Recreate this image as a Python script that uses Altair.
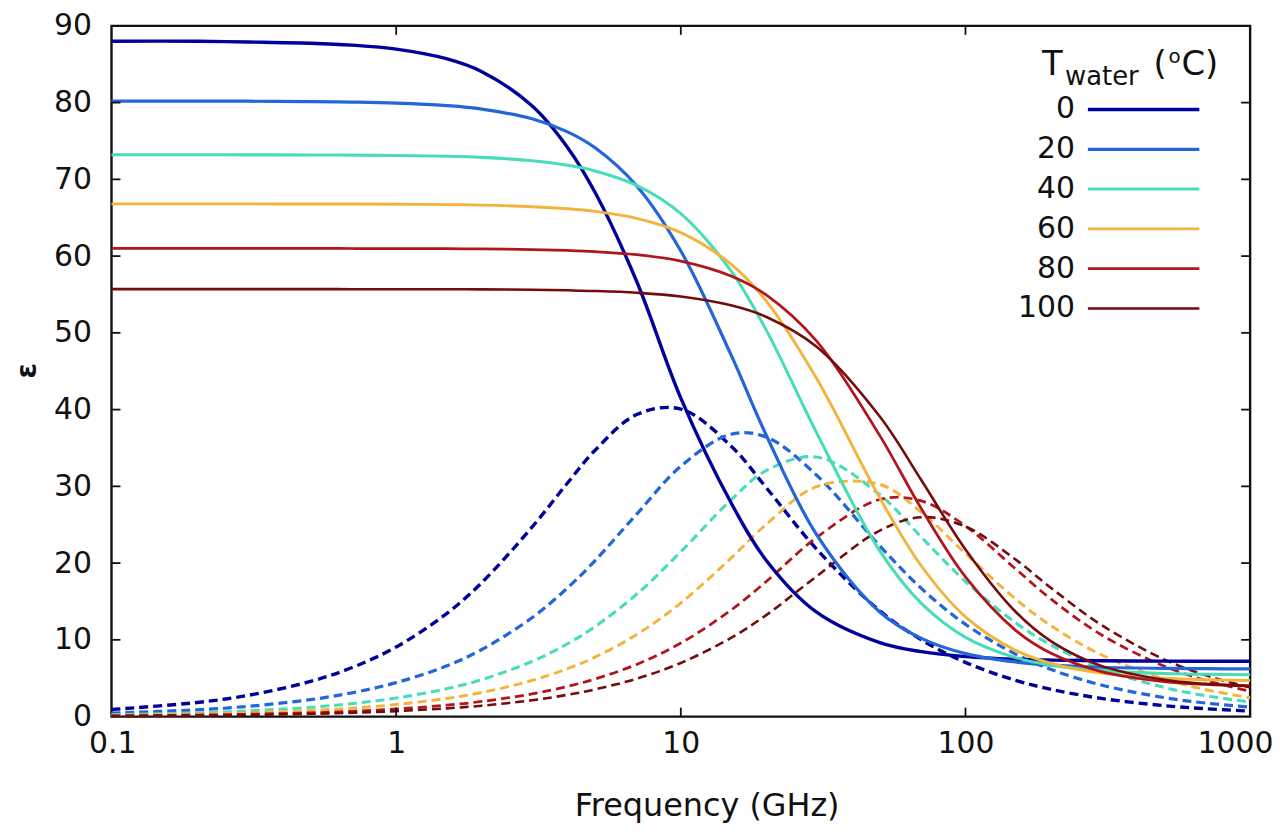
import altair as alt
import pandas as pd

# ---------------- data ----------------
FREQ = [0.1, 0.2, 0.3, 0.5, 0.7, 1, 1.5, 2, 3, 4, 5, 7, 10, 15, 20, 30, 50, 70,
        100, 150, 200, 300, 500, 700, 1000]
TEMPS = ["0", "20", "40", "60", "80", "100"]

re_0 = [88.0, 88.0, 87.9, 87.74, 87.49, 86.97, 85.72, 84.03, 79.59, 74.16, 68.28, 56.69, 41.5,
        27.89, 20.31, 13.60, 9.63, 8.46, 7.82, 7.48, 7.36, 7.27, 7.23, 7.21, 7.21]
im_0 = [0.92, 1.84, 2.75, 4.58, 6.39, 9.07, 13.38, 17.46, 24.68, 30.44, 34.71, 39.36, 40.07,
        35.26, 29.79, 21.82, 13.79, 10.0, 7.06, 4.72, 3.55, 2.37, 1.42, 1.02, 0.71]
re_20 = [80.2, 80.19, 80.18, 80.13, 80.07, 79.94, 79.61, 79.15, 77.89, 76.19, 74.11, 69.14, 60.67,
         47.16, 36.60, 23.71, 13.63, 10.19, 8.21, 7.11, 6.71, 6.43, 6.28, 6.24, 6.22]
im_20 = [0.44, 0.89, 1.33, 2.21, 3.10, 4.42, 6.59, 8.74, 12.88, 16.76, 20.33, 26.38, 32.62,
         36.79, 36.41, 31.45, 22.24, 16.70, 12.02, 8.14, 6.14, 4.11, 2.47, 1.76, 1.24]
re_40 = [73.2, 73.2, 73.19, 73.18, 73.16, 73.11, 73.01, 72.86, 72.43, 71.84, 71.10, 69.21, 65.53,
         58.08, 50.29, 36.97, 21.59, 14.75, 10.33, 7.68, 6.70, 5.99, 5.61, 5.51, 5.45]
im_40 = [0.24, 0.48, 0.73, 1.21, 1.69, 2.42, 3.62, 4.82, 7.18, 9.49, 11.73, 15.95, 21.48,
         28.22, 32.07, 33.82, 28.90, 23.38, 17.60, 12.23, 9.31, 6.27, 3.79, 2.71, 1.90]
re_60 = [66.8, 66.8, 66.8, 66.79, 66.78, 66.76, 66.71, 66.64, 66.44, 66.17, 65.82, 64.91, 63.05,
         58.96, 54.11, 44.05, 28.50, 19.62, 13.00, 8.63, 6.94, 5.66, 4.99, 4.80, 4.70]
im_60 = [0.16, 0.32, 0.47, 0.79, 1.10, 1.57, 2.36, 3.14, 4.70, 6.24, 7.75, 10.69, 14.80,
         20.64, 25.07, 29.96, 30.26, 26.62, 21.25, 15.32, 11.82, 8.05, 4.88, 3.50, 2.45]
re_80 = [61.0, 61.0, 61.0, 61.0, 60.99, 60.98, 60.96, 60.93, 60.85, 60.73, 60.58, 60.18, 59.35,
         57.41, 54.92, 48.93, 36.61, 27.08, 18.20, 11.24, 8.24, 5.86, 4.56, 4.19, 3.99]
im_80 = [0.10, 0.20, 0.30, 0.49, 0.69, 0.99, 1.48, 1.97, 2.95, 3.93, 4.90, 6.80, 9.58,
         13.87, 17.63, 23.34, 28.29, 28.10, 24.83, 19.24, 15.30, 10.66, 6.55, 4.71, 3.31]
re_100 = [55.7, 55.7, 55.7, 55.7, 55.69, 55.69, 55.68, 55.66, 55.61, 55.54, 55.46, 55.23, 54.74,
          53.59, 52.07, 48.19, 39.09, 30.79, 21.78, 13.66, 9.81, 6.61, 4.79, 4.26, 3.98]
im_100 = [0.07, 0.14, 0.21, 0.36, 0.50, 0.71, 1.07, 1.42, 2.13, 2.84, 3.55, 4.94, 6.99,
          10.25, 13.25, 18.28, 24.24, 25.98, 24.76, 20.46, 16.75, 11.95, 7.43, 5.37, 3.78]

X_TICKS = [1, 10, 100]
Y_TICKS = [10, 20, 30, 40, 50, 60, 70, 80]

# ---------------- styling ----------------
COLORS = ["#00009a", "#2466d8", "#48dcb8", "#f2b43c", "#b0161b", "#740c0c"]
WIDTHS = [3.4, 2.6, 2.4, 2.6, 3.0, 2.8]
FONT = "DejaVu Sans"
W, H = 1144, 694

REALS = [re_0, re_20, re_40, re_60, re_80, re_100]
IMAGS = [im_0, im_20, im_40, im_60, im_80, im_100]

rows = []
for t, re, im in zip(TEMPS, REALS, IMAGS):
    for f, a, b in zip(FREQ, re, im):
        rows.append({"T": t, "f": f, "v": a, "part": "real"})
        rows.append({"T": t, "f": f, "v": b, "part": "imag"})
df = pd.DataFrame(rows)
df_real = df[df.part == "real"]
df_imag = df[df.part == "imag"]

xscale = alt.Scale(type="log", domain=[0.1, 1000], nice=False)
yscale = alt.Scale(domain=[0, 90], nice=False, zero=False)

x_axis = alt.Axis(values=[0.1, 1, 10, 100, 1000], format="~g", domain=False, ticks=False,
                  tickSize=0, grid=False, labelFont=FONT, labelFontSize=30, labelColor="#111",
                  labelPadding=12, labelFlush=True, labelFlushOffset=23, labelOverlap=False,
                  labelBound=False, title="Frequency (GHz)", titleFont=FONT, titleFontSize=32,
                  titleFontWeight="normal", titleColor="#111", titleX=598, titleY=89,
                  titleBaseline="middle", titleAlign="center")
y_axis = alt.Axis(values=list(range(0, 91, 10)), format="d", domain=False, ticks=False,
                  tickSize=0, grid=False, labelFont=FONT, labelFontSize=30, labelColor="#111",
                  labelPadding=20, labelOverlap=False, labelBound=False, title="ε",
                  titleFont=FONT, titleFontSize=28, titleFontWeight="bold", titleColor="#111",
                  titleX=-84, titleY=346, titleAngle=270, titleBaseline="middle",
                  titleAlign="center")


def xenc():
    return alt.X("f:Q", scale=xscale, axis=x_axis)


def yenc():
    return alt.Y("v:Q", scale=yscale, axis=y_axis)


color = alt.Color("T:N", scale=alt.Scale(domain=TEMPS, range=COLORS), legend=None)
swidth = alt.StrokeWidth("T:O", sort=TEMPS, scale=alt.Scale(domain=TEMPS, range=WIDTHS),
                         legend=None)

dashed = alt.Chart(df_imag).mark_line(interpolate="catmull-rom", strokeDash=[9, 5],
                                       strokeCap="butt").encode(
    x=xenc(), y=yenc(), color=color, strokeWidth=swidth)
solid = alt.Chart(df_real).mark_line(interpolate="catmull-rom").encode(
    x=xenc(), y=yenc(), color=color, strokeWidth=swidth)

# inward ticks on all four sides
df_xt = pd.DataFrame({"f": X_TICKS})
df_yt = pd.DataFrame({"v": Y_TICKS})
tk = dict(color="#111", strokeWidth=1.8)
t_bottom = alt.Chart(df_xt).mark_rule(**tk).encode(x=xenc(), y=alt.value(H), y2=alt.value(H - 9))
t_top = alt.Chart(df_xt).mark_rule(**tk).encode(x=xenc(), y=alt.value(0), y2=alt.value(9))
t_left = alt.Chart(df_yt).mark_rule(**tk).encode(y=yenc(), x=alt.value(0), x2=alt.value(9))
t_right = alt.Chart(df_yt).mark_rule(**tk).encode(y=yenc(), x=alt.value(W), x2=alt.value(W - 9))

# legend (labels on the left of the line samples)
df_leg = pd.DataFrame({"T": TEMPS, "ly": [84 + 40 * i for i in range(len(TEMPS))]})
leg_lines = alt.Chart(df_leg).mark_rule(strokeCap="butt").encode(
    x=alt.value(981), x2=alt.value(1093),
    y=alt.Y("ly:Q", scale=None, axis=None), color=color, strokeWidth=swidth)
leg_text = alt.Chart(df_leg).mark_text(align="right", baseline="middle", font=FONT,
                                       fontSize=30, color="#111").encode(
    x=alt.value(968), y=alt.Y("ly:Q", scale=None, axis=None), text="T:N")

df_title = pd.DataFrame({
    "s": ["T", "water", "(", "o", "C)"],
    "px": [935, 958, 1047, 1062, 1075],
    "py": [49, 59, 49, 37, 49],
    "fs": [34, 26, 34, 20, 34],
})
leg_title = alt.Chart(df_title).mark_text(align="left", baseline="alphabetic", font=FONT,
                                          color="#111").encode(
    x=alt.X("px:Q", scale=None, axis=None), y=alt.Y("py:Q", scale=None, axis=None),
    text="s:N", size=alt.Size("fs:Q", scale=None, legend=None))

chart = alt.layer(
    dashed, solid, t_bottom, t_top, t_left, t_right, leg_lines, leg_text, leg_title
).properties(
    width=W, height=H,
    autosize=alt.AutoSizeParams(type="none"),
    padding={"left": 104, "top": 16, "right": 26, "bottom": 110},
    background="white",
).configure_view(stroke="#111", strokeWidth=2.4)

chart.save("out.html", embed_options={"renderer": "svg", "actions": False})
